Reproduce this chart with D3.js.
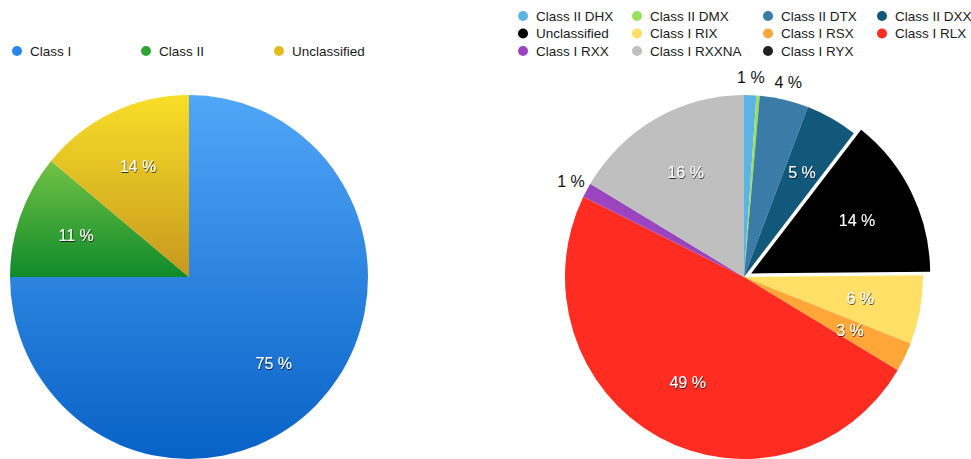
<!DOCTYPE html>
<html>
<head>
<meta charset="utf-8">
<script src="https://cdn.jsdelivr.net/npm/d3@7"></script>
<style>
  body { margin: 0; background: #fff; }
  svg { display: block; font-family: "Liberation Sans", Arial, Helvetica, sans-serif; }
</style>
</head>
<body>
<svg id="chart" width="971" height="459"></svg>
<script>
// left pie: major classes
const leftCategories = ["Class I", "Class II", "Unclassified"];
const leftValues = [75, 11, 14];

// right pie: sub classes (same order as legend)
const rightCategories = ["Class II DHX", "Class II DMX", "Class II DTX", "Class II DXX",
  "Unclassified", "Class I RIX", "Class I RSX", "Class I RLX",
  "Class I RXX", "Class I RXXNA", "Class I RYX"];
const rightValues = [1.1, 0.3, 4.4, 4.7, 14.3, 6.1, 2.6, 48.6, 1.3, 16.4, 0];

const width = 971, height = 459;
const svg = d3.select("#chart");
const defs = svg.append("defs");

// text shadow for labels on slices
const shadow = defs.append("filter").attr("id", "shadow")
  .attr("x", "-20%").attr("y", "-20%").attr("width", "140%").attr("height", "140%");
shadow.append("feDropShadow").attr("dx", 0.6).attr("dy", 1)
  .attr("stdDeviation", 0.5).attr("flood-color", "#000").attr("flood-opacity", 0.75);

// gradient stops for left pie
const leftGrad = [["#50a6f8", "#0862c6"], ["#72c244", "#0f8a2a"], ["#f8de28", "#c6981e"]];
leftGrad.forEach((g, i) => {
  const lg = defs.append("linearGradient").attr("id", "lg" + i)
    .attr("x1", 0).attr("y1", 0).attr("x2", 0).attr("y2", 1);
  lg.append("stop").attr("offset", "0%").attr("stop-color", g[0]);
  lg.append("stop").attr("offset", "100%").attr("stop-color", g[1]);
});
const leftColor = d3.scaleOrdinal().domain(leftCategories)
  .range(leftCategories.map((d, i) => "url(#lg" + i + ")"));
const leftDot = d3.scaleOrdinal().domain(leftCategories).range(["#2a86ea", "#2ea336", "#e1bd1c"]);

const rightColor = d3.scaleOrdinal().domain(rightCategories)
  .range(["#5cb3e4", "#9be05a", "#3a7ca7", "#12587a", "#000000", "#ffdf66",
           "#ffa638", "#ff2c22", "#9a45bf", "#bfbfbf", "#222222"]);

const pie = d3.pie().sort(null).value(d => d.value);
const sy = 182 / 179; // pies are a touch taller than wide

// ---------- left pie ----------
const left = { cx: 189, cy: 277, r: 179 };
const leftData = leftCategories.map((c, i) => ({ name: c, value: leftValues[i] }));
const gL = svg.append("g").attr("transform", "translate(" + left.cx + "," + left.cy + ")");
const arcL = d3.arc().innerRadius(0).outerRadius(left.r);
const labelArcL = d3.arc().innerRadius(left.r * 0.67).outerRadius(left.r * 0.67);

gL.append("g").attr("transform", "scale(1," + sy + ")")
  .selectAll("path").data(pie(leftData)).enter().append("path")
  .attr("d", arcL)
  .attr("fill", d => leftColor(d.data.name));

gL.selectAll("text").data(pie(leftData)).enter().append("text")
  .attr("transform", d => {
    const c = labelArcL.centroid(d);
    return "translate(" + c[0] + "," + c[1] * sy + ")";
  })
  .attr("text-anchor", "middle").attr("dy", "0.35em")
  .attr("fill", "#fff").attr("filter", "url(#shadow)")
  .style("font-size", "16px")
  .text(d => Math.round(d.data.value) + " %");

// left legend
const legL = svg.append("g");
const legLx = [17, 146, 279];
leftCategories.forEach((c, i) => {
  const g = legL.append("g").attr("transform", "translate(" + legLx[i] + ",51)");
  g.append("circle").attr("r", 5).attr("fill", leftDot(c));
  g.append("text").attr("x", 13).attr("dy", "0.35em").style("font-size", "13.5px")
    .attr("fill", "#1a1a1a").text(c);
});

// ---------- right pie ----------
const right = { cx: 744, cy: 277, r: 179 };
const rightData = rightCategories.map((c, i) => ({ name: c, value: rightValues[i] }));
const exploded = "Unclassified";
const outside = ["Class II DHX", "Class II DTX", "Class I RXX"];
const gR = svg.append("g").attr("transform", "translate(" + right.cx + "," + right.cy + ")");
const arcR = d3.arc().innerRadius(0).outerRadius(right.r);
const inArcR = d3.arc().innerRadius(right.r * 0.66).outerRadius(right.r * 0.66);
const outArcR = d3.arc().innerRadius(right.r * 1.1).outerRadius(right.r * 1.1);

function offset(d) {
  if (d.data.name !== exploded) return [0, 0];
  const a = (d.startAngle + d.endAngle) / 2;
  return [Math.sin(a) * 8, -Math.cos(a) * 8];
}

const slicesR = pie(rightData).filter(d => d.data.value > 0);
gR.append("g").attr("transform", "scale(1," + sy + ")")
  .selectAll("path").data(slicesR).enter().append("path")
  .attr("d", arcR)
  .attr("transform", d => "translate(" + offset(d) + ")")
  .attr("fill", d => rightColor(d.data.name));

gR.selectAll("text").data(slicesR.filter(d => Math.round(d.data.value) > 0)).enter().append("text")
  .attr("transform", d => {
    const c = outside.includes(d.data.name) ? outArcR.centroid(d) : inArcR.centroid(d);
    const o = offset(d);
    return "translate(" + (c[0] + o[0]) + "," + (c[1] + o[1]) * sy + ")";
  })
  .attr("text-anchor", "middle").attr("dy", "0.35em")
  .attr("fill", d => outside.includes(d.data.name) ? "#111" : "#fff")
  .attr("filter", d => outside.includes(d.data.name) ? null : "url(#shadow)")
  .style("font-size", "16px")
  .text(d => Math.round(d.data.value) + " %");

// right legend
const legRx = [523, 637, 768, 882];
const legRy = [16, 33.5, 51];
const legR = svg.append("g");
rightCategories.forEach((c, i) => {
  const g = legR.append("g")
    .attr("transform", "translate(" + legRx[i % 4] + "," + legRy[Math.floor(i / 4)] + ")");
  g.append("circle").attr("r", 5).attr("fill", rightColor(c));
  g.append("text").attr("x", 13).attr("dy", "0.35em").style("font-size", "13.5px")
    .attr("fill", "#1a1a1a").text(c);
});
</script>
</body>
</html>
